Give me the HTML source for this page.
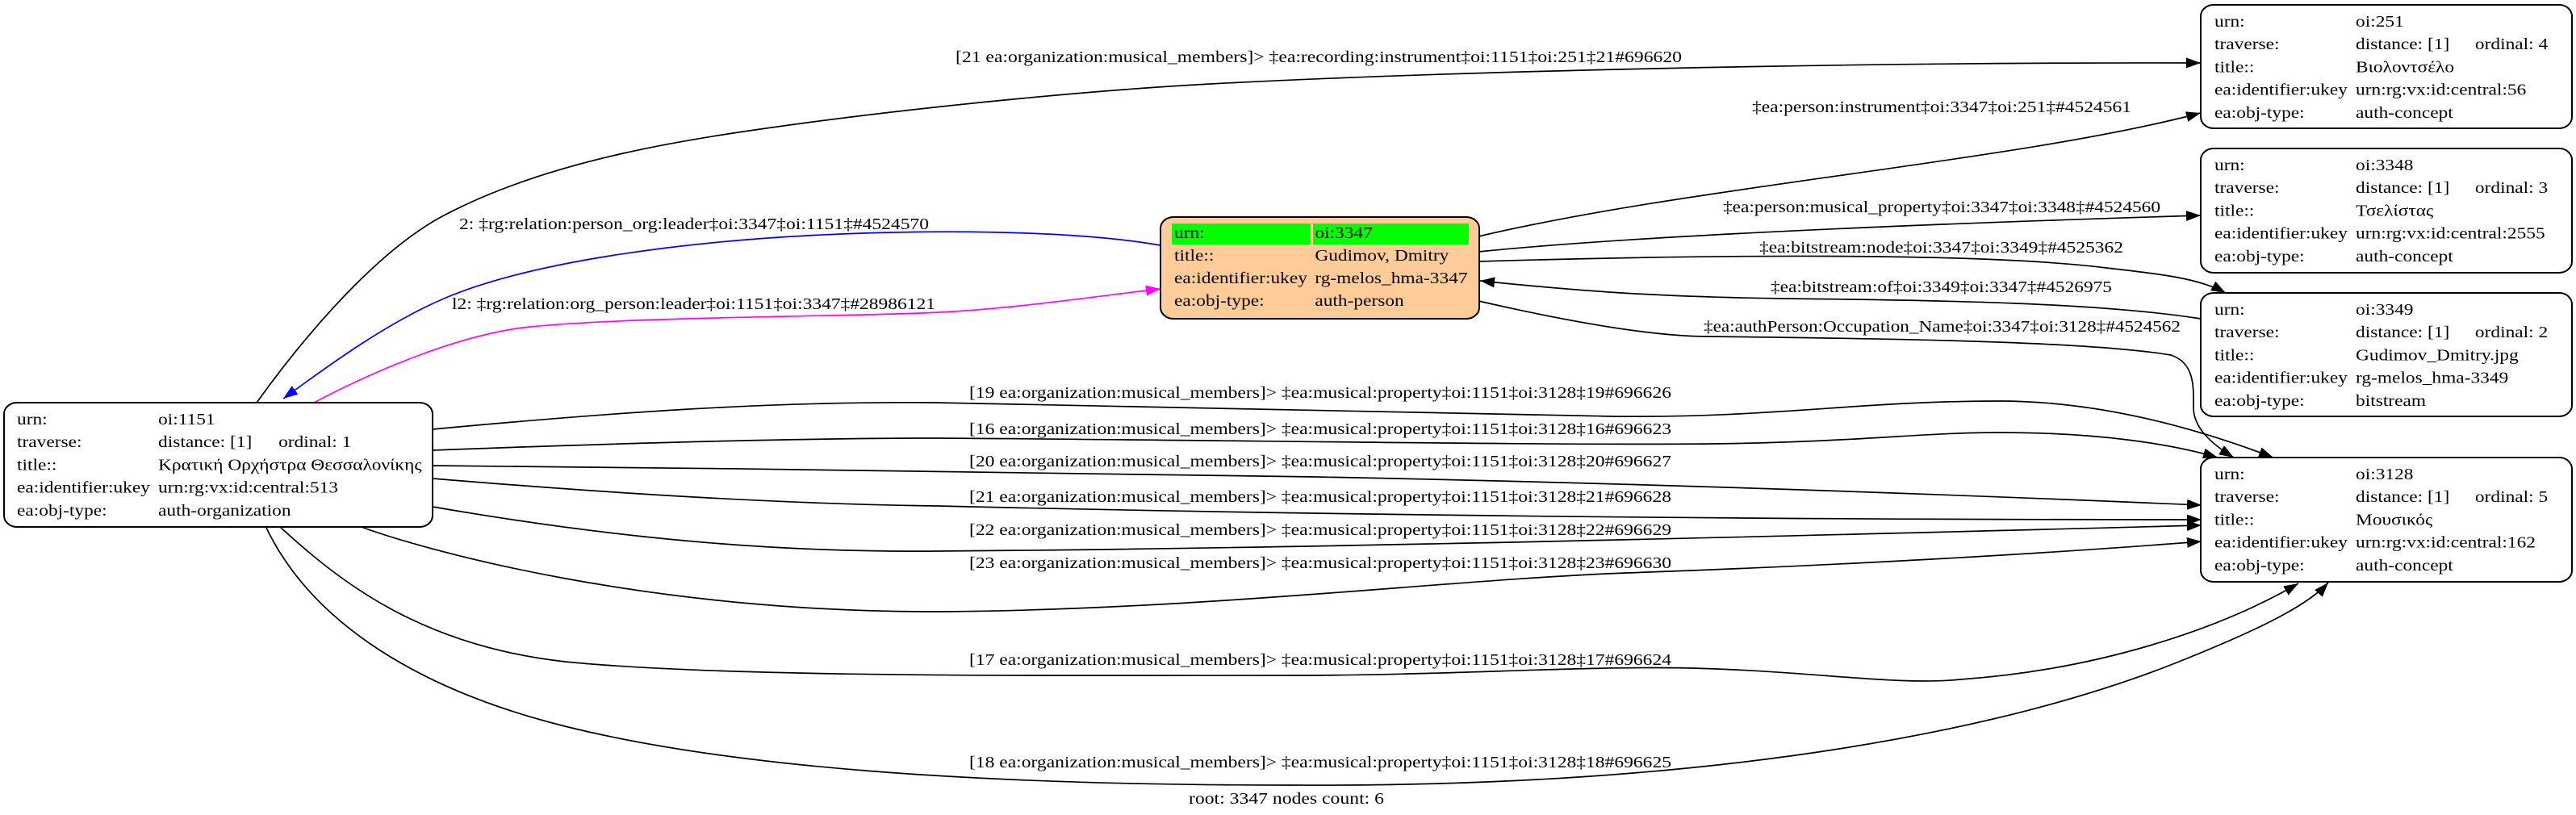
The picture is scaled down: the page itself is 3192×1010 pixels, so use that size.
<!DOCTYPE html>
<html>
<head>
<meta charset="utf-8">
<style>
html,body{margin:0;padding:0;background:#fff;width:3192px;height:1010px;overflow:hidden}
svg text{font-family:"Liberation Serif","DejaVu Serif",serif;font-size:20px;fill:#000}
</style>
</head>
<body>
<svg width="3192" height="1010" viewBox="0 0 3192 1010" xmlns="http://www.w3.org/2000/svg">
<defs>
<marker id="ak" markerUnits="userSpaceOnUse" markerWidth="20" markerHeight="14" refX="18" refY="6.5" orient="auto"><path d="M0,0 L18,6.5 L0,13 z" fill="#000"/></marker>
<marker id="ab" markerUnits="userSpaceOnUse" markerWidth="20" markerHeight="14" refX="18" refY="6.5" orient="auto"><path d="M0,0 L18,6.5 L0,13 z" fill="#0000ff"/></marker>
<marker id="am" markerUnits="userSpaceOnUse" markerWidth="20" markerHeight="14" refX="18" refY="6.5" orient="auto"><path d="M0,0 L18,6.5 L0,13 z" fill="#ff00ff"/></marker>
</defs>
<rect x="0" y="0" width="3192" height="1010" fill="#fff"/>

<!-- edges -->
<g fill="none" stroke="#000" stroke-width="1.7">
<path d="M318,499 C382,410 470,309 550,267 C683,197 851,172 1000,152 C1150,132 1350,112 1500,104 C1800,88 2300,77 2727,78" marker-end="url(#ak)"/>
<path d="M1832,293 C2100,230 2500,200 2727,140" marker-end="url(#ak)"/>
<path d="M1832,312 C2000,295 2300,280 2727,267" marker-end="url(#ak)"/>
<path d="M1832,324 C2100,316 2450,312 2610,332 C2680,340 2725,345 2758,363" marker-end="url(#ak)"/>
<path d="M2727,395 C2600,375 2400,372 2212,370 C2050,368 1950,360 1834,348" marker-end="url(#ak)"/>
<path d="M1832,373 C1950,400 2050,417 2117,417 C2400,420 2600,425 2690,440 C2720,450 2718,480 2718,505 C2718,530 2740,550 2768,567" marker-end="url(#ak)"/>
<path d="M536,532 C750,512 950,497 1161,499 C1400,502 1700,512 2000,516 C2200,518 2300,497 2477,497 C2600,497 2720,530 2817,567" marker-end="url(#ak)"/>
<path d="M536,558 C800,548 1000,543 1161,543 C1500,545 1900,552 2120,550 C2300,548 2380,536 2477,536 C2600,536 2690,550 2748,567" marker-end="url(#ak)"/>
<path d="M536,577 C900,580 1300,586 1630,591 C2000,598 2400,612 2728,626" marker-end="url(#ak)"/>
<path d="M536,593 C800,615 1000,625 1161,627 C1500,635 2000,644 2728,644" marker-end="url(#ak)"/>
<path d="M536,628 C750,665 950,685 1161,683 C1600,680 2200,665 2728,651" marker-end="url(#ak)"/>
<path d="M445,652 C520,680 800,760 1170,758 C1500,755 1800,718 2015,710 C2300,700 2550,685 2728,671" marker-end="url(#ak)"/>
<path d="M346,652 C420,720 520,800 700,820 C900,840 1300,837 1600,837 C1800,837 1950,825 2097,828 C2250,832 2350,850 2429,842 C2600,830 2750,780 2848,723" marker-end="url(#ak)"/>
<path d="M329,652 C380,760 500,850 700,900 C900,950 1200,973 1600,973 C2150,976 2500,900 2700,820 C2800,780 2860,750 2885,722" marker-end="url(#ak)"/>
<path d="M1438,304 C1330,285 1150,284 1000,292 C850,300 660,323 550,370 C480,400 411,450 351,494" stroke="#0000ff" marker-end="url(#ab)"/>
<path d="M387,500 C457,463 567,414 657,405 C780,393 1000,393 1142,388 C1250,384 1350,368 1438,358" stroke="#ff00ff" marker-end="url(#am)"/>
</g>

<!-- edge labels -->
<text x="1184" y="77" textLength="900" lengthAdjust="spacingAndGlyphs">[21 ea:organization:musical_members]&gt; ‡ea:recording:instrument‡oi:1151‡oi:251‡21#696620</text>
<text x="2171" y="139" textLength="470" lengthAdjust="spacingAndGlyphs">‡ea:person:instrument‡oi:3347‡oi:251‡#4524561</text>
<text x="2135" y="263" textLength="542" lengthAdjust="spacingAndGlyphs">‡ea:person:musical_property‡oi:3347‡oi:3348‡#4524560</text>
<text x="2180" y="313" textLength="451" lengthAdjust="spacingAndGlyphs">‡ea:bitstream:node‡oi:3347‡oi:3349‡#4525362</text>
<text x="2194" y="362" textLength="423" lengthAdjust="spacingAndGlyphs">‡ea:bitstream:of‡oi:3349‡oi:3347‡#4526975</text>
<text x="2111" y="411" textLength="591" lengthAdjust="spacingAndGlyphs">‡ea:authPerson:Occupation_Name‡oi:3347‡oi:3128‡#4524562</text>
<text x="569" y="284" textLength="582" lengthAdjust="spacingAndGlyphs">2: ‡rg:relation:person_org:leader‡oi:3347‡oi:1151‡#4524570</text>
<text x="560" y="383" textLength="599" lengthAdjust="spacingAndGlyphs">l2: ‡rg:relation:org_person:leader‡oi:1151‡oi:3347‡#28986121</text>
<text x="1201" y="493" textLength="870" lengthAdjust="spacingAndGlyphs">[19 ea:organization:musical_members]&gt; ‡ea:musical:property‡oi:1151‡oi:3128‡19#696626</text>
<text x="1201" y="538" textLength="870" lengthAdjust="spacingAndGlyphs">[16 ea:organization:musical_members]&gt; ‡ea:musical:property‡oi:1151‡oi:3128‡16#696623</text>
<text x="1201" y="578" textLength="870" lengthAdjust="spacingAndGlyphs">[20 ea:organization:musical_members]&gt; ‡ea:musical:property‡oi:1151‡oi:3128‡20#696627</text>
<text x="1201" y="622" textLength="870" lengthAdjust="spacingAndGlyphs">[21 ea:organization:musical_members]&gt; ‡ea:musical:property‡oi:1151‡oi:3128‡21#696628</text>
<text x="1201" y="663" textLength="870" lengthAdjust="spacingAndGlyphs">[22 ea:organization:musical_members]&gt; ‡ea:musical:property‡oi:1151‡oi:3128‡22#696629</text>
<text x="1201" y="704" textLength="870" lengthAdjust="spacingAndGlyphs">[23 ea:organization:musical_members]&gt; ‡ea:musical:property‡oi:1151‡oi:3128‡23#696630</text>
<text x="1201" y="824" textLength="870" lengthAdjust="spacingAndGlyphs">[17 ea:organization:musical_members]&gt; ‡ea:musical:property‡oi:1151‡oi:3128‡17#696624</text>
<text x="1201" y="951" textLength="870" lengthAdjust="spacingAndGlyphs">[18 ea:organization:musical_members]&gt; ‡ea:musical:property‡oi:1151‡oi:3128‡18#696625</text>
<text x="1473" y="996" textLength="242" lengthAdjust="spacingAndGlyphs">root: 3347 nodes count: 6</text>

<!-- nodes -->
<g stroke="#000" stroke-width="2">
<rect x="5" y="499" width="531" height="154" rx="16" ry="14" fill="#fff"/>
<rect x="1438" y="269" width="395" height="126" rx="16" ry="14" fill="#ffcc99"/>
<rect x="2727" y="6" width="460" height="153" rx="16" ry="14" fill="#fff"/>
<rect x="2727" y="184" width="460" height="154" rx="16" ry="14" fill="#fff"/>
<rect x="2727" y="363" width="460" height="153" rx="16" ry="14" fill="#fff"/>
<rect x="2727" y="567" width="460" height="154" rx="16" ry="14" fill="#fff"/>
</g>
<rect x="1452" y="277" width="172" height="26" fill="#00ff00"/>
<rect x="1627" y="277" width="193" height="26" fill="#00ff00"/>

<!-- oi:1151 -->
<g transform="translate(21,0) scale(1.17,1)">
<text x="0" y="526">urn:</text><text x="149.6" y="526">oi:1151</text>
<text x="0" y="554.25">traverse:</text><text x="149.6" y="554.25">distance: [1]</text><text x="277" y="554.25">ordinal: 1</text>
<text x="0" y="582.5">title::</text><text x="149.6" y="582.5">Κρατική Ορχήστρα Θεσσαλονίκης</text>
<text x="0" y="610.75">ea:identifier:ukey</text><text x="149.6" y="610.75">urn:rg:vx:id:central:513</text>
<text x="0" y="639">ea:obj-type:</text><text x="149.6" y="639">auth-organization</text>
</g>

<!-- oi:3347 -->
<g transform="translate(1455,0) scale(1.17,1)">
<text x="0" y="295">urn:</text><text x="149" y="295">oi:3347</text>
<text x="0" y="323">title::</text><text x="149" y="323">Gudimov, Dmitry</text>
<text x="0" y="351">ea:identifier:ukey</text><text x="149" y="351">rg-melos_hma-3347</text>
<text x="0" y="379">ea:obj-type:</text><text x="149" y="379">auth-person</text>
</g>

<!-- oi:251 -->
<g transform="translate(2744,0) scale(1.17,1)">
<text x="0" y="33">urn:</text><text x="149.6" y="33">oi:251</text>
<text x="0" y="61.25">traverse:</text><text x="149.6" y="61.25">distance: [1]</text><text x="276" y="61.25">ordinal: 4</text>
<text x="0" y="89.5">title::</text><text x="149.6" y="89.5">Βιολοντσέλο</text>
<text x="0" y="117.75">ea:identifier:ukey</text><text x="149.6" y="117.75">urn:rg:vx:id:central:56</text>
<text x="0" y="146">ea:obj-type:</text><text x="149.6" y="146">auth-concept</text>
</g>

<!-- oi:3348 -->
<g transform="translate(2744,0) scale(1.17,1)">
<text x="0" y="211">urn:</text><text x="149.6" y="211">oi:3348</text>
<text x="0" y="239.25">traverse:</text><text x="149.6" y="239.25">distance: [1]</text><text x="276" y="239.25">ordinal: 3</text>
<text x="0" y="267.5">title::</text><text x="149.6" y="267.5">Τσελίστας</text>
<text x="0" y="295.75">ea:identifier:ukey</text><text x="149.6" y="295.75">urn:rg:vx:id:central:2555</text>
<text x="0" y="324">ea:obj-type:</text><text x="149.6" y="324">auth-concept</text>
</g>

<!-- oi:3349 -->
<g transform="translate(2744,0) scale(1.17,1)">
<text x="0" y="390">urn:</text><text x="149.6" y="390">oi:3349</text>
<text x="0" y="418.25">traverse:</text><text x="149.6" y="418.25">distance: [1]</text><text x="276" y="418.25">ordinal: 2</text>
<text x="0" y="446.5">title::</text><text x="149.6" y="446.5">Gudimov_Dmitry.jpg</text>
<text x="0" y="474.75">ea:identifier:ukey</text><text x="149.6" y="474.75">rg-melos_hma-3349</text>
<text x="0" y="503">ea:obj-type:</text><text x="149.6" y="503">bitstream</text>
</g>

<!-- oi:3128 -->
<g transform="translate(2744,0) scale(1.17,1)">
<text x="0" y="594">urn:</text><text x="149.6" y="594">oi:3128</text>
<text x="0" y="622.25">traverse:</text><text x="149.6" y="622.25">distance: [1]</text><text x="276" y="622.25">ordinal: 5</text>
<text x="0" y="650.5">title::</text><text x="149.6" y="650.5">Μουσικός</text>
<text x="0" y="678.75">ea:identifier:ukey</text><text x="149.6" y="678.75">urn:rg:vx:id:central:162</text>
<text x="0" y="707">ea:obj-type:</text><text x="149.6" y="707">auth-concept</text>
</g>
</svg>
</body>
</html>
